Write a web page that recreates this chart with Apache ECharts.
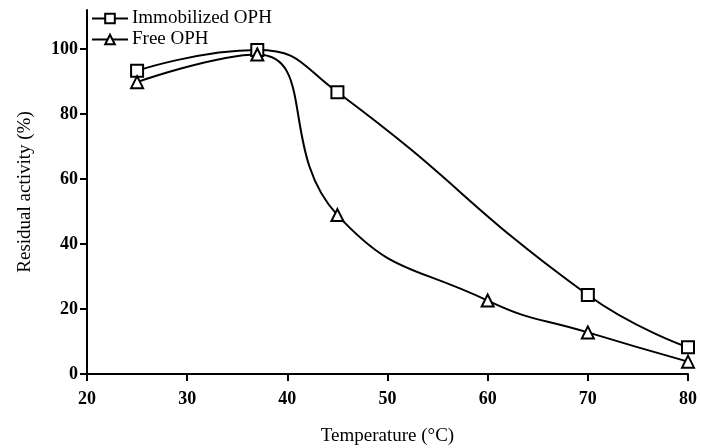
<!DOCTYPE html>
<html><head><meta charset="utf-8">
<script src="https://cdn.jsdelivr.net/npm/echarts@6/dist/echarts.min.js"></script>
<style>html,body{margin:0;padding:0;background:#fff}#c{width:701px;height:448px}</style>
</head><body><div id="c"></div>
<script>
var temperatures = [25, 37, 45, 60, 70, 80];
var immobilized = [[25, 93.3], [37, 99.7], [45, 86.7], [70, 24.3], [80, 8.2]];
var free = [[25, 89.8], [37, 98.3], [45, 48.9], [60, 22.6], [70, 12.8], [80, 3.8]];
var xTicks = [20, 30, 40, 50, 60, 70, 80];
var yTicks = [0, 20, 40, 60, 80, 100];

var font = '"Liberation Serif", "Times New Roman", serif';
var chart = echarts.init(document.getElementById('c'), null, {renderer: 'canvas'});
chart.setOption({
  animation: false,
  backgroundColor: '#fff',
  grid: {left: 87, right: 13, top: 10, bottom: 74, containLabel: false, outerBoundsMode: 'none'},
  legend: {
    orient: 'vertical', left: 86, top: 4, itemGap: 2, itemWidth: 36, itemHeight: 12,
    textStyle: {fontFamily: font, fontSize: 19, color: '#000', padding: [0,0,0,-1]},
    data: ['Immobilized OPH', 'Free OPH']
  },
  xAxis: {
    type: 'value', min: 20, max: 80, interval: 10,
    name: 'Temperature (°C)', nameLocation: 'middle', nameGap: 53,
    nameTextStyle: {fontFamily: font, fontSize: 19, color: '#000'},
    axisLine: {show: true, onZero: false, lineStyle: {color: '#000', width: 2}},
    axisTick: {show: true, length: 7, lineStyle: {color: '#000', width: 2}, customValues: xTicks},
    axisLabel: {fontFamily: font, fontSize: 18, fontWeight: 'bold', color: '#000', margin: 16, customValues: xTicks},
    splitLine: {show: false}
  },
  yAxis: {
    type: 'value', min: 0, max: 112,
    name: 'Residual activity (%)', nameLocation: 'middle', nameGap: 52, nameRotate: 90,
    nameTextStyle: {fontFamily: font, fontSize: 19, color: '#000'},
    axisLine: {show: true, onZero: false, lineStyle: {color: '#000', width: 2}},
    axisTick: {show: true, length: 7, lineStyle: {color: '#000', width: 2}, customValues: yTicks},
    axisLabel: {fontFamily: font, fontSize: 18, fontWeight: 'bold', color: '#000', margin: 9, customValues: yTicks},
    splitLine: {show: false}
  },
  series: [
    {name: 'Immobilized OPH', type: 'line', data: immobilized, smooth: 0.5,
     symbol: 'rect', symbolSize: 12, showAllSymbol: true,
     itemStyle: {color: '#fff', borderColor: '#000', borderWidth: 2},
     lineStyle: {color: '#000', width: 2}, z: 3},
    {name: 'Free OPH', type: 'line', data: free, smooth: 0.5,
     symbol: 'triangle', symbolSize: 12, showAllSymbol: true,
     itemStyle: {color: '#fff', borderColor: '#000', borderWidth: 2},
     lineStyle: {color: '#000', width: 2}, z: 3}
  ]
});
</script></body></html>
